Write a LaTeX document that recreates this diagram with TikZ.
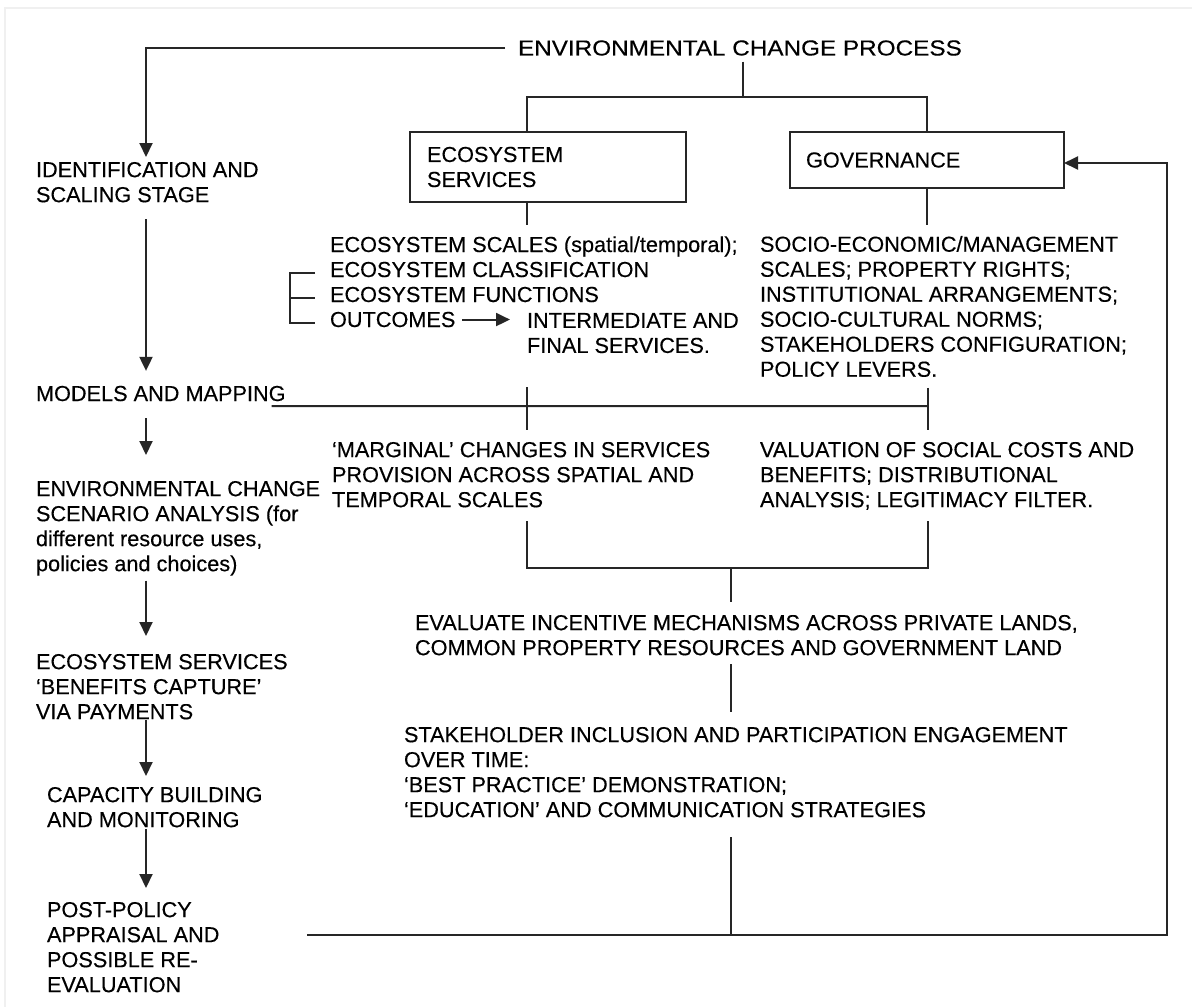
\documentclass[tikz,border=0pt]{standalone}
\usepackage{fontspec}
\setmainfont{Liberation Sans}[FakeBold=0.3]
\usepackage{graphicx}
\usepackage{tikz}
\usetikzlibrary{arrows.meta, positioning, calc}

\begin{document}
\begin{tikzpicture}[
  x=0.5pt, y=-0.5pt,
  every node/.style={inner sep=0pt, outer sep=0pt},
  txt/.style={font=\fontsize{10.85}{12.5}\selectfont, align=left, anchor=north west},
  lbl/.style={font=\fontsize{10.85}{12.5}\selectfont, anchor=base west},
  box/.style={draw=black!85, line width=1pt, font=\fontsize{10.85}{12.5}\selectfont, align=left, text width=121pt, inner xsep=8.5pt},
  link/.style={draw=black!85, line width=1pt},
  arrow/.style={link, -{Triangle[length=7pt, width=6.5pt]}}
]

\fill[white] (0,0) rectangle (1192,1007);
\useasboundingbox (0,0) rectangle (1192,1007);
\draw[gray!12, line width=0.6pt] (5,1007) -- (5,8) -- (1192,8);

% Title and the two branches
\node[lbl, anchor=west] (title) at (518,48) {\scalebox{1.12}[1]{ENVIRONMENTAL CHANGE PROCESS}};
\node[box, minimum width=138pt, minimum height=35pt] (eco) at (548,167) {ECOSYSTEM\\SERVICES};
\node[box, minimum width=137pt, minimum height=28pt, inner xsep=8pt] (gov) at (927,160) {GOVERNANCE};

\coordinate (spine) at (146,0);
\coordinate (ecol) at (527,0);
\coordinate (govl) at (928,0);
\coordinate (split) at (743,97);

\draw[link, shorten <=3pt] (title.south -| split) -- (split);
\draw[link] (eco.north -| ecol) |- (split) -| (gov.north);

% Left column: stages
\node[txt] (ident) at (36,162) {IDENTIFICATION AND\\SCALING STAGE};
\node[lbl] (models) at (36,401) {MODELS AND MAPPING};
\node[txt] (envchg) at (36,481) {ENVIRONMENTAL CHANGE\\SCENARIO ANALYSIS (for\\different resource uses,\\policies and choices)};
\node[txt] (ecoserv) at (36,654) {ECOSYSTEM SERVICES\\`BENEFITS CAPTURE'\\VIA PAYMENTS};
\node[txt] (capac) at (47,787) {CAPACITY BUILDING\\AND MONITORING};
\node[txt] (post) at (47,902) {POST-POLICY\\APPRAISAL AND\\POSSIBLE RE-\\EVALUATION};

\draw[arrow, shorten <=6.5pt, shorten >=2.5pt] (title.west) -| (ident.north -| spine);
\draw[arrow, shorten <=8.5pt, shorten >=7.5pt] (ident.south -| spine) -- (models.north -| spine);
\draw[arrow, shorten <=8.5pt, shorten >=13pt] (models.south -| spine) -- (envchg.north -| spine);
\draw[arrow, shorten <=2.5pt, shorten >=9pt] (envchg.south -| spine) -- (ecoserv.north -| spine);
\draw[arrow, shorten <=0.5pt, shorten >=5.5pt] (ecoserv.south -| spine) -- (capac.north -| spine);
\draw[arrow, shorten <=1pt, shorten >=7pt] (capac.south -| spine) -- (post.north -| spine);

% Ecosystem services branch
\node[lbl] (escale) at (330,252) {ECOSYSTEM SCALES (spatial/temporal);};
\node[lbl] (eclass) at (330,277) {ECOSYSTEM CLASSIFICATION};
\node[lbl] (efunc) at (330,302) {ECOSYSTEM FUNCTIONS};
\node[lbl] (eout) at (330,327) {OUTCOMES};
\node[txt] (inter) at (527,313) {INTERMEDIATE AND\\FINAL SERVICES.};

\draw[link, shorten >=5.5pt] (eco.south -| ecol) -- (escale.north -| ecol);
\coordinate (brk) at (290,0);
\draw[link] ([xshift=-7.5pt,yshift=-1.5pt]eclass.west) -- ([yshift=-1.5pt]eclass.west -| brk) -- ([yshift=-1.5pt]eout.west -| brk) -- ([xshift=-7.5pt,yshift=-1.5pt]eout.west);
\draw[link] ([yshift=-1.5pt]efunc.west -| brk) -- ([xshift=-7.5pt,yshift=-1.5pt]efunc.west);
\draw[arrow, shorten <=3.5pt, shorten >=8.5pt] (eout.east) -- (eout.east -| inter.west);

% Governance branch
\node[txt] (govlist) at (760,236) {SOCIO-ECONOMIC/MANAGEMENT\\SCALES; PROPERTY RIGHTS;\\INSTITUTIONAL ARRANGEMENTS;\\SOCIO-CULTURAL NORMS;\\STAKEHOLDERS CONFIGURATION;\\POLICY LEVERS.};
\draw[link, shorten >=5.5pt] (gov.south) -- (govlist.north -| gov.south);

% Models and mapping line
\coordinate (mapR) at (928,406);
\draw[link] ($(models.south east)+(-14,5)$) -- (mapR);

\node[txt] (marg) at (332,442) {`MARGINAL' CHANGES IN SERVICES\\PROVISION ACROSS SPATIAL AND\\TEMPORAL SCALES};
\node[txt] (valu) at (760,442) {VALUATION OF SOCIAL COSTS AND\\BENEFITS; DISTRIBUTIONAL\\ANALYSIS; LEGITIMACY FILTER.};

\draw[link, shorten <=17pt, shorten >=6pt] (inter.south -| ecol) -- (marg.north -| ecol);
\draw[link, shorten <=5.5pt, shorten >=6pt] (govlist.south -| govl) -- (valu.north -| govl);

% Joining towards incentives
\coordinate (join) at (731,568);
\draw[link, shorten <=7pt, shorten >=5.5pt] (marg.south -| ecol) |- (join) -| (valu.south -| govl);

\node[txt] (evalu) at (415,615) {EVALUATE INCENTIVE MECHANISMS ACROSS PRIVATE LANDS,\\COMMON PROPERTY RESOURCES AND GOVERNMENT LAND};
\node[txt] (stake) at (404,727) {STAKEHOLDER INCLUSION AND PARTICIPATION ENGAGEMENT\\OVER TIME:\\`BEST PRACTICE' DEMONSTRATION;\\`EDUCATION' AND COMMUNICATION STRATEGIES};

\draw[link, shorten >=6.5pt] (join) -- (evalu.north -| join);
\draw[link, shorten <=4.5pt, shorten >=7.5pt] (evalu.south -| join) -- (stake.north -| join);

% Feedback loop back to governance
\coordinate (fb) at (307,935);
\coordinate (jb) at (731,935);
\coordinate (rc) at (1167,935);
\draw[link, shorten <=10pt] (stake.south -| join) -- (jb);
\draw[arrow] (fb) -- (rc) |- ([yshift=-1.5pt]gov.east);

\end{tikzpicture}
\end{document}
